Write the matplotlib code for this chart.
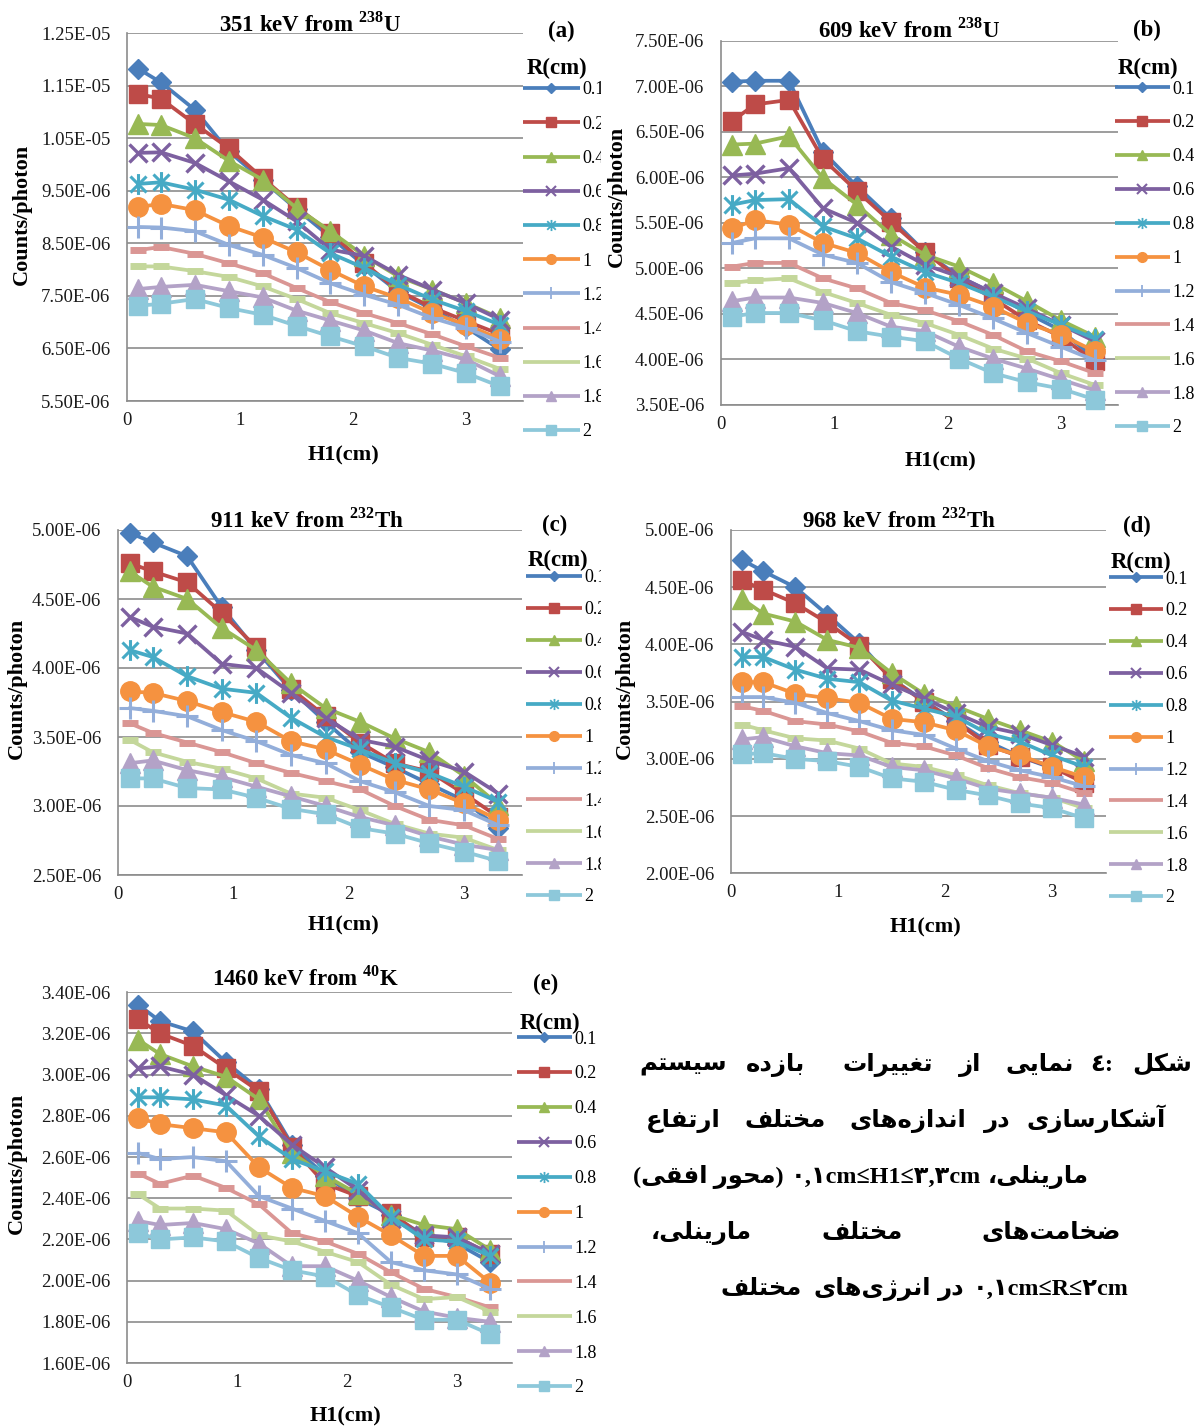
import numpy as np
import matplotlib
matplotlib.use("Agg")
import matplotlib.pyplot as plt
from matplotlib.lines import Line2D
from matplotlib.path import Path
from matplotlib.ticker import FuncFormatter, FixedLocator
from matplotlib.transforms import Bbox, TransformedBbox
from matplotlib import font_manager as fm, ft2font

W, H, DPI = 1194, 1427, 100

# ---------------- data ----------------
H1_cm = [0.1, 0.3, 0.6, 0.9, 1.2, 1.5, 1.8, 2.1, 2.4, 2.7, 3.0, 3.3]
R_labels = ['0.1', '0.2', '0.4', '0.6', '0.8', '1', '1.2', '1.4', '1.6', '1.8', '2']

# counts/photon in units of 1e-6, one row per R value
eff_351keV_U238 = [
    [11.82, 11.56, 11.04, 10.25, 9.70, 9.15, 8.62, 8.08, 7.58, 7.25, 6.90, 6.48],
    [11.34, 11.25, 10.77, 10.31, 9.74, 9.19, 8.70, 8.12, 7.60, 7.28, 7.02, 6.77],
    [10.77, 10.75, 10.50, 10.07, 9.71, 9.17, 8.73, 8.26, 7.87, 7.62, 7.36, 7.08],
    [10.22, 10.23, 10.03, 9.68, 9.33, 8.92, 8.38, 8.26, 7.90, 7.62, 7.36, 7.05],
    [9.63, 9.66, 9.52, 9.33, 9.02, 8.76, 8.31, 8.03, 7.71, 7.43, 7.21, 6.95],
    [9.19, 9.25, 9.13, 8.83, 8.61, 8.33, 7.99, 7.68, 7.46, 7.17, 6.95, 6.68],
    [8.81, 8.80, 8.73, 8.47, 8.28, 8.03, 7.74, 7.52, 7.33, 7.08, 6.89, 6.63],
    [8.37, 8.43, 8.30, 8.12, 7.93, 7.65, 7.38, 7.17, 6.98, 6.77, 6.54, 6.32],
    [8.06, 8.06, 7.97, 7.86, 7.68, 7.44, 7.17, 6.98, 6.79, 6.57, 6.35, 6.11],
    [7.63, 7.67, 7.71, 7.59, 7.47, 7.22, 7.03, 6.84, 6.60, 6.46, 6.29, 5.97],
    [7.31, 7.35, 7.44, 7.27, 7.14, 6.93, 6.73, 6.54, 6.32, 6.21, 6.03, 5.78],
]
eff_609keV_U238 = [
    [7.05, 7.06, 7.06, 6.28, 5.90, 5.55, 5.18, 4.91, 4.73, 4.51, 4.32, 4.01],
    [6.62, 6.80, 6.85, 6.20, 5.85, 5.51, 5.18, 4.89, 4.67, 4.43, 4.25, 3.98],
    [6.36, 6.37, 6.45, 5.99, 5.70, 5.37, 5.15, 5.02, 4.84, 4.64, 4.43, 4.25],
    [6.02, 6.04, 6.10, 5.66, 5.50, 5.24, 5.04, 4.91, 4.73, 4.56, 4.38, 4.20],
    [5.70, 5.75, 5.76, 5.46, 5.33, 5.13, 4.96, 4.84, 4.69, 4.53, 4.38, 4.23],
    [5.44, 5.53, 5.48, 5.28, 5.17, 4.96, 4.79, 4.71, 4.58, 4.40, 4.27, 4.09],
    [5.28, 5.33, 5.33, 5.15, 5.06, 4.85, 4.73, 4.60, 4.45, 4.29, 4.14, 3.99],
    [5.02, 5.06, 5.06, 4.89, 4.78, 4.62, 4.54, 4.42, 4.27, 4.09, 3.98, 3.85],
    [4.84, 4.87, 4.89, 4.74, 4.62, 4.49, 4.40, 4.27, 4.12, 4.01, 3.85, 3.72],
    [4.64, 4.68, 4.68, 4.62, 4.51, 4.36, 4.31, 4.14, 4.01, 3.90, 3.78, 3.66],
    [4.47, 4.51, 4.51, 4.43, 4.31, 4.25, 4.20, 4.01, 3.85, 3.75, 3.68, 3.56],
]
eff_911keV_Th232 = [
    [4.98, 4.91, 4.81, 4.44, 4.13, 3.84, 3.61, 3.39, 3.28, 3.16, 3.04, 2.84],
    [4.76, 4.70, 4.62, 4.40, 4.15, 3.85, 3.65, 3.46, 3.31, 3.25, 3.09, 2.92],
    [4.70, 4.59, 4.50, 4.29, 4.13, 3.89, 3.71, 3.61, 3.49, 3.39, 3.22, 3.01],
    [4.37, 4.30, 4.25, 4.03, 4.00, 3.82, 3.64, 3.48, 3.43, 3.33, 3.25, 3.09],
    [4.13, 4.08, 3.94, 3.85, 3.82, 3.64, 3.50, 3.41, 3.31, 3.24, 3.14, 3.03],
    [3.83, 3.82, 3.76, 3.68, 3.61, 3.47, 3.41, 3.30, 3.19, 3.12, 3.02, 2.90],
    [3.71, 3.69, 3.65, 3.55, 3.47, 3.37, 3.31, 3.18, 3.10, 3.00, 2.97, 2.86],
    [3.60, 3.53, 3.46, 3.39, 3.31, 3.24, 3.18, 3.12, 3.00, 2.90, 2.86, 2.76],
    [3.48, 3.39, 3.32, 3.27, 3.20, 3.09, 3.06, 2.97, 2.87, 2.80, 2.77, 2.68],
    [3.31, 3.33, 3.26, 3.21, 3.14, 3.07, 3.00, 2.92, 2.86, 2.78, 2.72, 2.68],
    [3.20, 3.20, 3.13, 3.12, 3.06, 2.98, 2.94, 2.84, 2.80, 2.73, 2.67, 2.60],
]
eff_968keV_Th232 = [
    [4.74, 4.64, 4.50, 4.26, 4.01, 3.70, 3.51, 3.33, 3.15, 3.02, 2.92, 2.82],
    [4.56, 4.48, 4.36, 4.19, 3.99, 3.70, 3.50, 3.33, 3.12, 3.02, 2.93, 2.79],
    [4.40, 4.27, 4.20, 4.04, 3.97, 3.75, 3.57, 3.46, 3.35, 3.25, 3.15, 2.98],
    [4.11, 4.04, 3.98, 3.79, 3.78, 3.65, 3.53, 3.40, 3.28, 3.22, 3.12, 3.02],
    [3.89, 3.89, 3.78, 3.70, 3.67, 3.51, 3.44, 3.37, 3.22, 3.15, 3.03, 2.93],
    [3.67, 3.67, 3.57, 3.53, 3.49, 3.35, 3.32, 3.25, 3.11, 3.03, 2.93, 2.84],
    [3.54, 3.54, 3.49, 3.40, 3.33, 3.25, 3.21, 3.09, 2.98, 2.90, 2.84, 2.76],
    [3.46, 3.42, 3.33, 3.30, 3.24, 3.14, 3.11, 3.03, 2.92, 2.84, 2.79, 2.70],
    [3.30, 3.25, 3.18, 3.16, 3.09, 2.96, 2.93, 2.86, 2.77, 2.70, 2.66, 2.57],
    [3.17, 3.19, 3.11, 3.05, 3.03, 2.93, 2.90, 2.83, 2.74, 2.70, 2.66, 2.60],
    [3.04, 3.05, 3.00, 2.98, 2.93, 2.83, 2.80, 2.73, 2.68, 2.61, 2.57, 2.48],
]
eff_1460keV_K40 = [
    [3.34, 3.26, 3.21, 3.06, 2.93, 2.66, 2.51, 2.40, 2.32, 2.22, 2.18, 2.09],
    [3.27, 3.20, 3.14, 3.03, 2.92, 2.65, 2.47, 2.41, 2.33, 2.21, 2.21, 2.13],
    [3.17, 3.10, 3.04, 2.99, 2.88, 2.62, 2.51, 2.42, 2.32, 2.27, 2.25, 2.15],
    [3.03, 3.04, 3.00, 2.90, 2.80, 2.66, 2.55, 2.44, 2.30, 2.22, 2.21, 2.13],
    [2.89, 2.89, 2.88, 2.85, 2.70, 2.59, 2.53, 2.47, 2.31, 2.20, 2.19, 2.12],
    [2.79, 2.76, 2.74, 2.72, 2.55, 2.45, 2.41, 2.31, 2.22, 2.12, 2.12, 1.99],
    [2.62, 2.59, 2.60, 2.58, 2.41, 2.35, 2.29, 2.23, 2.09, 2.05, 2.03, 1.96],
    [2.52, 2.47, 2.51, 2.45, 2.37, 2.23, 2.19, 2.13, 2.04, 1.96, 1.92, 1.87],
    [2.42, 2.35, 2.35, 2.34, 2.22, 2.19, 2.14, 2.09, 1.98, 1.91, 1.92, 1.85],
    [2.29, 2.27, 2.28, 2.25, 2.18, 2.07, 2.07, 2.00, 1.92, 1.85, 1.82, 1.80],
    [2.23, 2.20, 2.21, 2.19, 2.11, 2.05, 2.02, 1.93, 1.87, 1.81, 1.81, 1.74],
]

yticks_a = [5.5e-6, 6.5e-6, 7.5e-6, 8.5e-6, 9.5e-6, 1.05e-5, 1.15e-5, 1.25e-5]
yticks_b = [3.5e-6, 4.0e-6, 4.5e-6, 5.0e-6, 5.5e-6, 6.0e-6, 6.5e-6, 7.0e-6, 7.5e-6]
yticks_c = [2.5e-6, 3.0e-6, 3.5e-6, 4.0e-6, 4.5e-6, 5.0e-6]
yticks_d = [2.0e-6, 2.5e-6, 3.0e-6, 3.5e-6, 4.0e-6, 4.5e-6, 5.0e-6]
yticks_e = [1.6e-6, 1.8e-6, 2.0e-6, 2.2e-6, 2.4e-6, 2.6e-6, 2.8e-6, 3.0e-6, 3.2e-6, 3.4e-6]
xticks_all = [0, 1, 2, 3]

titles = ["351 keV from $^{\\mathbf{238}}$U", "609 keV from $^{\\mathbf{238}}$U",
          "911 keV from $^{\\mathbf{232}}$Th", "968 keV from $^{\\mathbf{232}}$Th",
          "1460 keV from $^{\\mathbf{40}}$K"]
panel_tags = ["(a)", "(b)", "(c)", "(d)", "(e)"]
y_label = "Counts/photon"
x_label = "H1(cm)"
legend_title = "R(cm)"

# caption words (logical order), right-to-left within each line
caption_lines = [
    ["شکل", "٤:", "نمایی", "از", "تغییرات", "بازده", "سیستم"],
    ["آشکارسازی", "در", "اندازه\u200cهای", "مختلف", "ارتفاع"],
    ["مارینلی،", "۰,۱cm≤H1≤۳,۳cm", "(محور افقی)"],
    ["ضخامت\u200cهای", "مختلف", "مارینلی،"],
    ["۰,۱cm≤R≤۲cm", "در", "انرژی\u200cهای", "مختلف"],
]

# ---------------- style ----------------
plt.rcParams['font.family'] = ['Liberation Serif', 'DejaVu Sans']
plt.rcParams['mathtext.fontset'] = 'custom'
plt.rcParams['mathtext.rm'] = 'Liberation Serif'
plt.rcParams['mathtext.bf'] = 'Liberation Serif:bold'

ASTER = Path([(-1, -1), (1, 1), (-1, 1), (1, -1), (0, -1.3), (0, 1.3)],
             [Path.MOVETO, Path.LINETO] * 3)

COLORS = ['#4A7EBB', '#BE4B48', '#98B954', '#7D60A0', '#46AAC5', '#F59240',
          '#93AEDA', '#DA9694', '#C4D79B', '#B3A2C7', '#8DC8DA']
MARKERS = ['D', 's', '^', 'x', ASTER, 'o', '+', '_', '_', '^', 's']
MS = [10, 13, 14, 13, 15, 14, 16, 11, 11, 14, 13]
MEW = [1, 1, 1, 2.4, 2.2, 1, 2.2, 5, 5, 1, 1]
LEG_MS = [5, 7, 7, 7, 8, 7, 8, 0, 0, 7, 7]
LEG_MEW = [1, 1, 1, 1.5, 1.3, 1, 1.3, 0, 0, 1, 1]
LW = 2.7
GRID = '#8C8C8C'

fig = plt.figure(figsize=(W / DPI, H / DPI), dpi=DPI)
fig.patch.set_facecolor('white')


def fx(x):
    return x / W


def fy(y):
    return 1 - y / H


panels = [
    dict(data=eff_351keV_U238, yt=yticks_a, rect=(127, 33, 522.5, 401),
         title=(310, 32), tag=(561, 31), ylab=(22, 214), xlab=(343, 455),
         leg=dict(lx=582, y0=90, y1=432, line=(523, 580), ttl=(557, 68), clip=601)),
    dict(data=eff_609keV_U238, yt=yticks_b, rect=(721, 40.7, 1117.5, 405),
         title=(909, 37), tag=(1147, 30), ylab=(617, 196), xlab=(940, 461),
         leg=dict(lx=1172, y0=89, y1=428, line=(1115, 1170), ttl=(1148, 68), clip=None)),
    dict(data=eff_911keV_Th232, yt=yticks_c, rect=(118, 530, 521.5, 875),
         title=(307, 527), tag=(555, 525), ylab=(17, 688), xlab=(343, 925),
         leg=dict(lx=584, y0=578, y1=897, line=(526, 582), ttl=(558, 560), clip=601)),
    dict(data=eff_968keV_Th232, yt=yticks_d, rect=(731, 530, 1105.5, 873.3),
         title=(899, 527), tag=(1137, 526), ylab=(625, 688), xlab=(925, 927),
         leg=dict(lx=1165, y0=579, y1=898, line=(1107, 1161), ttl=(1141, 562), clip=None)),
    dict(data=eff_1460keV_K40, yt=yticks_e, rect=(127, 992.3, 512, 1363),
         title=(305, 986), tag=(546, 984), ylab=(17, 1163), xlab=(345, 1416),
         leg=dict(lx=574, y0=1039, y1=1388, line=(515, 570), ttl=(550, 1023), clip=None)),
]

TICK_FS = 13.5
LAB_FS = 16
LEG_FS = 13

legend_jobs = []
for i, p in enumerate(panels):
    l, t, r, b = p['rect']
    ax = fig.add_axes([fx(l), fy(b), (r - l) / W, (b - t) / H])
    for k, row in enumerate(p['data']):
        ax.plot(H1_cm, np.array(row) * 1e-6, color=COLORS[k], lw=LW,
                marker=MARKERS[k], ms=MS[k], mew=MEW[k], mfc=COLORS[k], mec=COLORS[k],
                solid_joinstyle='round', solid_capstyle='round', clip_on=False, zorder=3)
    ax.set_xlim(0, 3.5)
    ax.set_ylim(p['yt'][0], p['yt'][-1])
    ax.yaxis.set_major_locator(FixedLocator(p['yt']))
    ax.xaxis.set_major_locator(FixedLocator(xticks_all))
    ax.yaxis.set_major_formatter(FuncFormatter(lambda v, pos: f"{v:.2E}"))
    ax.xaxis.set_major_formatter(FuncFormatter(lambda v, pos: f"{v:g}"))
    ax.tick_params(axis='y', length=0, pad=12, labelsize=TICK_FS, labelcolor='#1a1a1a')
    ax.tick_params(axis='x', length=0, pad=8, labelsize=TICK_FS, labelcolor='#1a1a1a')
    ax.yaxis.grid(True, color=GRID, lw=1.2)
    ax.set_axisbelow(True)
    for s in ['top', 'right']:
        ax.spines[s].set_visible(False)
    for s in ['left', 'bottom']:
        ax.spines[s].set_color(GRID)
        ax.spines[s].set_linewidth(1.2)

    fig.text(fx(p['title'][0]), fy(p['title'][1]), titles[i], ha='center', va='baseline',
             fontsize=16.5, fontweight='bold', family='Liberation Serif')
    fig.text(fx(p['tag'][0]), fy(p['tag'][1]), panel_tags[i], ha='center', va='center',
             fontsize=16.5, fontweight='bold', family='Liberation Serif')
    fig.text(fx(p['ylab'][0]), fy(p['ylab'][1]), y_label, ha='center', va='center',
             rotation=90, fontsize=LAB_FS, fontweight='bold', family='Liberation Serif')
    fig.text(fx(p['xlab'][0]), fy(p['xlab'][1]), x_label, ha='center', va='center',
             fontsize=LAB_FS, fontweight='bold', family='Liberation Serif')
    lg = p['leg']
    fig.text(fx(lg['ttl'][0]), fy(lg['ttl'][1]), legend_title, ha='center', va='center',
             fontsize=16.5, fontweight='bold', family='Liberation Serif')
    legend_jobs.append(lg)

handles = [Line2D([], [], color=COLORS[k], lw=LW, marker=MARKERS[k], ms=LEG_MS[k],
                  mew=LEG_MEW[k], mfc=COLORS[k], mec=COLORS[k], solid_capstyle='butt')
           for k in range(len(R_labels))]

fs_px = LEG_FS * DPI / 72.0


def build_legend(lg, ls, top_px, left_px):
    line_len = lg['line'][1] - lg['line'][0]
    leg = fig.legend(handles, R_labels, loc='upper left',
                     bbox_to_anchor=(fx(left_px), fy(top_px)), frameon=False,
                     fontsize=LEG_FS, handlelength=line_len / fs_px, handletextpad=0.12,
                     borderpad=0, borderaxespad=0, labelspacing=ls, handleheight=0.7)
    return leg


for lg in legend_jobs:
    ls = 0.8
    top = lg['y0'] - 12
    left = lg['line'][0]
    leg = build_legend(lg, ls, top, left)
    fig.canvas.draw()
    txts = leg.get_texts()
    ext0 = txts[0].get_window_extent()
    ext1 = txts[-1].get_window_extent()
    c0 = H - (ext0.y0 + ext0.y1) / 2
    c1 = H - (ext1.y0 + ext1.y1) / 2
    pitch = (c1 - c0) / 10.0
    target = (lg['y1'] - lg['y0']) / 10.0
    ls = ls + (target - pitch) / fs_px
    leg.remove()
    leg = build_legend(lg, ls, top, left)
    fig.canvas.draw()
    ext0 = leg.get_texts()[0].get_window_extent()
    c0 = H - (ext0.y0 + ext0.y1) / 2
    dx = lg['lx'] - ext0.x0
    top = top + (lg['y0'] - c0)
    left = left + dx
    leg.set_bbox_to_anchor((fx(left), fy(top)))
    if lg['clip'] is not None:
        cb = TransformedBbox(Bbox.from_extents(0, 0, fx(lg['clip']), 1), fig.transFigure)
        for t in leg.get_texts():
            t.set_clip_box(cb)
            t.set_clip_on(True)

# ---------------- Persian caption ----------------
AR = {
    '\u0622': ('\uFE81', '\uFE82', None, None),
    '\u0627': ('\uFE8D', '\uFE8E', None, None),
    '\u0628': ('\uFE8F', '\uFE90', '\uFE91', '\uFE92'),
    '\u062A': ('\uFE95', '\uFE96', '\uFE97', '\uFE98'),
    '\u062D': ('\uFEA1', '\uFEA2', '\uFEA3', '\uFEA4'),
    '\u062E': ('\uFEA5', '\uFEA6', '\uFEA7', '\uFEA8'),
    '\u062F': ('\uFEA9', '\uFEAA', None, None),
    '\u0631': ('\uFEAD', '\uFEAE', None, None),
    '\u0632': ('\uFEAF', '\uFEB0', None, None),
    '\u0698': ('\uFB8A', '\uFB8B', None, None),
    '\u0633': ('\uFEB1', '\uFEB2', '\uFEB3', '\uFEB4'),
    '\u0634': ('\uFEB5', '\uFEB6', '\uFEB7', '\uFEB8'),
    '\u0636': ('\uFEBD', '\uFEBE', '\uFEBF', '\uFEC0'),
    '\u0639': ('\uFEC9', '\uFECA', '\uFECB', '\uFECC'),
    '\u063A': ('\uFECD', '\uFECE', '\uFECF', '\uFED0'),
    '\u0641': ('\uFED1', '\uFED2', '\uFED3', '\uFED4'),
    '\u0642': ('\uFED5', '\uFED6', '\uFED7', '\uFED8'),
    '\u06A9': ('\uFB8E', '\uFB8F', '\uFB90', '\uFB91'),
    '\u0644': ('\uFEDD', '\uFEDE', '\uFEDF', '\uFEE0'),
    '\u0645': ('\uFEE1', '\uFEE2', '\uFEE3', '\uFEE4'),
    '\u0646': ('\uFEE5', '\uFEE6', '\uFEE7', '\uFEE8'),
    '\u0647': ('\uFEE9', '\uFEEA', '\uFEEB', '\uFEEC'),
    '\u0648': ('\uFEED', '\uFEEE', None, None),
    '\u06CC': ('\uFBFC', '\uFBFD', '\uFBFE', '\uFBFF'),
}

ar_path = fm.findfont(fm.FontProperties(family='DejaVu Sans', weight='bold'))
ar_cmap = ft2font.FT2Font(ar_path).get_charmap()
AR_WEIGHT = 'bold' if 0xFE8D in ar_cmap else 'normal'
if AR_WEIGHT == 'normal':
    ar_cmap = ft2font.FT2Font(fm.findfont(fm.FontProperties(family='DejaVu Sans'))).get_charmap()
if 0xFBFC not in ar_cmap:
    AR['\u06CC'] = ('\uFEEF', '\uFEF0', '\uFEF3', '\uFEF4')
if 0xFB8E not in ar_cmap:
    AR['\u06A9'] = ('\uFED9', '\uFEDA', '\uFEDB', '\uFEDC')
if 0xFB8A not in ar_cmap:
    AR['\u0698'] = ('\uFEAF', '\uFEB0', None, None)


def shape(s):
    out = []
    for i, ch in enumerate(s):
        if ch not in AR:
            if ch != '\u200c':
                out.append(ch)
            continue
        iso, fin, ini, med = AR[ch]
        prev = s[i - 1] if i > 0 else None
        nxt = s[i + 1] if i < len(s) - 1 else None
        pj = prev in AR and AR[prev][2] is not None
        nj = (ini is not None) and (nxt in AR)
        out.append(med if (pj and nj) else fin if pj else ini if nj else iso)
    return out


def is_latin(s):
    return any('a' <= c.lower() <= 'z' for c in s)


def visual(s):
    if is_latin(s) or s == "٤:":
        return s
    mirror = {'(': ')', ')': '('}
    return ''.join(mirror.get(c, c) for c in shape(s)[::-1])


# visible extents (x0, x1) per word; x1=None -> word reaches the right edge
caption_pos = [
    (1071, [(1135, None), (1090, 1113), (1003, 1076), (954, 986), (837, 938), (740, 811), (649, 718)]),
    (1127, [(1027, None), (982, 1012), (848, 968), (737, 833), (649, 718)]),
    (1183, [(988, None), (792, 982), (651, 785)]),
    (1239, [(969, 1133), (817, 908), (649, 753)]),
    (1295, [(973, None), (938, 964), (826, 928), (709, 813)]),
]

base_fs = 16
cap_lines = []
for words, (yb, spans) in zip(caption_lines, caption_pos):
    row = []
    for w, (x0, x1) in zip(words, spans):
        t = fig.text(fx(x0), fy(yb), visual(w), fontsize=base_fs, fontweight='bold',
                     family=['Liberation Serif', 'DejaVu Sans'], ha='left', va='baseline',
                     color='black')
        row.append((t, x0, x1, is_latin(w)))
    cap_lines.append(row)

fig.canvas.draw()
ar_sz, la_sz = [], []
for row in cap_lines:
    for t, x0, x1, lat in row:
        if x1 is not None and len(t.get_text()) > 2:
            s = base_fs * (x1 - x0) / t.get_window_extent().width
            (la_sz if lat else ar_sz).append(s)
ar_fs = float(np.clip(0.94 * np.median(ar_sz), 13, 22))
la_fs = float(np.clip(np.median(la_sz), 13, 22)) if la_sz else ar_fs
for row in cap_lines:
    for t, x0, x1, lat in row:
        t.set_fontsize(la_fs if lat else ar_fs)
        if x1 is not None:
            t.set_ha('center')
            t.set_x(fx((x0 + x1) / 2))

fig.canvas.draw()
for row in cap_lines:
    # keep edge words inside the picture
    for t, x0, x1, lat in row:
        if x1 is None:
            ext = t.get_window_extent()
            if ext.x1 > W - 2:
                t.set_ha('right')
                t.set_x(fx(W - 2))
    fig.canvas.draw()
    # words are listed right-to-left: push any colliding word leftwards
    prev_left = None
    for t, x0, x1, lat in row:
        ext = t.get_window_extent()
        if prev_left is not None and ext.x1 > prev_left - 7:
            shift = ext.x1 - (prev_left - 7)
            t.set_x(t.get_position()[0] - shift / W)
            prev_left = ext.x0 - shift
        else:
            prev_left = ext.x0

fig.savefig('out.png', dpi=DPI, facecolor='white')
